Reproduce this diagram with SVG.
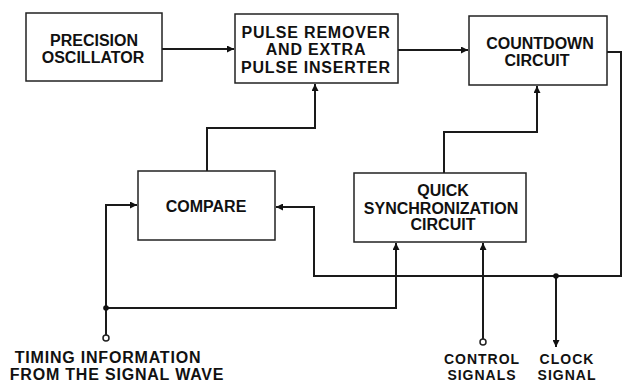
<svg xmlns="http://www.w3.org/2000/svg" width="624" height="383" viewBox="0 0 624 383">
<defs>
<marker id="arr" viewBox="0 0 10 10" refX="10" refY="5" markerWidth="7" markerHeight="7" markerUnits="userSpaceOnUse" orient="auto">
<path d="M0,0 L10,5 L0,10 z" fill="#111"/>
</marker>
<style>
.box{fill:#fff;stroke:#222;stroke-width:1.5}
.ln{fill:none;stroke:#1a1a1a;stroke-width:2}
.t{font-family:"Liberation Sans",Arial,sans-serif;font-weight:bold;font-size:16px;fill:#111;text-anchor:middle}
.ls{letter-spacing:0.8px}
.sm{font-size:14px;letter-spacing:1px}
.dot{fill:#111}
.term{fill:#fff;stroke:#222;stroke-width:1.5}
</style>
</defs>
<rect width="624" height="383" fill="#fff"/>
<g id="connectors">
<path class="ln" d="M162,49 H234" marker-end="url(#arr)"/>
<path class="ln" d="M398,50 H468" marker-end="url(#arr)"/>
<path class="ln" d="M207,171 V128 H315 V84" marker-end="url(#arr)"/>
<path class="ln" d="M444,173 V132 H537 V86" marker-end="url(#arr)"/>
<path class="ln" d="M607,52 H621 V276 H314 V207 H276" marker-end="url(#arr)"/>
<path class="ln" d="M106,335 V205 H137" marker-end="url(#arr)"/>
<path class="ln" d="M106,308 H396 V243" marker-end="url(#arr)"/>
<path class="ln" d="M483,339 V243" marker-end="url(#arr)"/>
<path class="ln" d="M556,276 V347" marker-end="url(#arr)"/>
<circle class="dot" cx="106" cy="308" r="2.8"/>
<circle class="dot" cx="556" cy="276" r="2.8"/>
<circle class="term" cx="106" cy="338" r="3"/>
<circle class="term" cx="483" cy="342" r="3"/>
</g>
<g id="precision-oscillator">
<rect class="box" x="26" y="13" width="136" height="68"/>
<text class="t" x="94" y="46">PRECISION</text>
<text class="t" x="93" y="63">OSCILLATOR</text>
</g>
<g id="pulse-remover">
<rect class="box" x="235" y="14" width="163" height="69"/>
<text class="t ls" x="316" y="38">PULSE REMOVER</text>
<text class="t ls" x="316" y="55">AND EXTRA</text>
<text class="t ls" x="316" y="73">PULSE INSERTER</text>
</g>
<g id="countdown">
<rect class="box" x="469" y="16" width="138" height="69"/>
<text class="t" x="540" y="49">COUNTDOWN</text>
<text class="t" x="537" y="66">CIRCUIT</text>
</g>
<g id="compare">
<rect class="box" x="138" y="171" width="137" height="69"/>
<text class="t" x="206" y="212">COMPARE</text>
</g>
<g id="quick-sync">
<rect class="box" x="354" y="173" width="172" height="69"/>
<text class="t" x="443" y="196">QUICK</text>
<text class="t" x="441" y="214">SYNCHRONIZATION</text>
<text class="t" x="443" y="230">CIRCUIT</text>
</g>
<g id="labels">
<text class="t ls" x="108" y="363">TIMING INFORMATION</text>
<text class="t ls" x="117" y="380">FROM THE SIGNAL WAVE</text>
<text class="t sm" x="482" y="364">CONTROL</text>
<text class="t sm" x="482" y="380">SIGNALS</text>
<text class="t sm" x="567" y="364">CLOCK</text>
<text class="t sm" x="567" y="380">SIGNAL</text>
</g>
</svg>
